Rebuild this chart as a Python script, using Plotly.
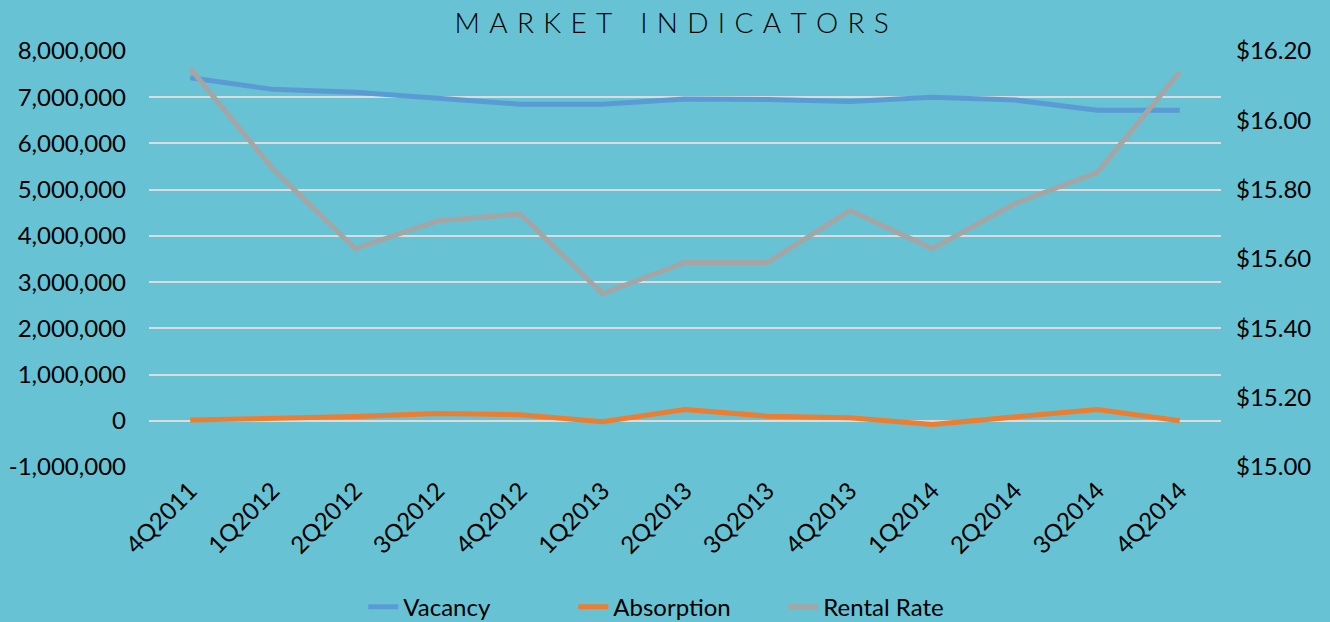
import plotly.graph_objects as go

quarters = ["4Q2011", "1Q2012", "2Q2012", "3Q2012", "4Q2012", "1Q2013", "2Q2013",
            "3Q2013", "4Q2013", "1Q2014", "2Q2014", "3Q2014", "4Q2014"]
vacancy = [7420000, 7170000, 7110000, 6970000, 6850000, 6850000, 6960000,
           6950000, 6910000, 7000000, 6940000, 6720000, 6720000]
absorption = [15000, 45000, 90000, 160000, 130000, -20000, 245000,
              100000, 65000, -78000, 75000, 245000, 0]
rental_rate = [16.15, 15.86, 15.63, 15.71, 15.73, 15.50, 15.59,
               15.59, 15.74, 15.63, 15.76, 15.85, 16.14]
left_ticks = [-1000000, 0, 1000000, 2000000, 3000000, 4000000, 5000000, 6000000, 7000000, 8000000]
left_labels = ["-1,000,000", "0", "1,000,000", "2,000,000", "3,000,000", "4,000,000",
               "5,000,000", "6,000,000", "7,000,000", "8,000,000"]
right_ticks = [15.0, 15.2, 15.4, 15.6, 15.8, 16.0, 16.2]
right_labels = ["$15.00", "$15.20", "$15.40", "$15.60", "$15.80", "$16.00", "$16.20"]

FONT = "Lato"
TXT = "#000000"
SZ = 24

fig = go.Figure()
fig.add_trace(go.Scatter(x=quarters, y=vacancy, name="Vacancy", mode="lines",
                         line=dict(color="#5B9BD5", width=5)))
fig.add_trace(go.Scatter(x=quarters, y=absorption, name="Absorption", mode="lines",
                         line=dict(color="#ED7D31", width=5)))
fig.add_trace(go.Scatter(x=quarters, y=rental_rate, name="Rental Rate", mode="lines",
                         line=dict(color="#A5A5A5", width=5), yaxis="y2"))

sp = "\u2004"
title = sp.join(list("MARKET")) + sp * 3 + sp.join(list("INDICATORS"))

fig.update_layout(
    width=1330, height=622,
    margin=dict(l=149, r=109, t=51, b=155, autoexpand=False),
    paper_bgcolor="#67C2D3", plot_bgcolor="#67C2D3",
    font=dict(family=FONT, color=TXT, size=SZ),
    title=dict(text=title, x=0.505, xanchor="center", xref="container",
               y=0.962, yanchor="middle", yref="container",
               font=dict(family=FONT, size=28, color="#000000", weight=300)),
    showlegend=True,
    legend=dict(orientation="h", xref="container", x=0.51, xanchor="center",
                yref="container", y=0.024, yanchor="middle",
                font=dict(family=FONT, size=SZ, color=TXT), bgcolor="rgba(0,0,0,0)",
                entrywidth=165, entrywidthmode="pixels", tracegroupgap=0),
    xaxis=dict(type="category", range=[-0.5, 12.5], tickangle=-45, showgrid=False,
               showline=False, zeroline=False, ticks="", tickfont=dict(size=SZ),
               ticklabelstandoff=4),
    yaxis=dict(range=[-1000000, 8000000], tickvals=left_ticks, ticktext=left_labels,
               showgrid=True, gridcolor="#DCDCDC", gridwidth=2, zeroline=False,
               showline=False, ticks="", tickfont=dict(size=SZ), ticklabelstandoff=22),
    yaxis2=dict(range=[15.0, 16.2], tickvals=right_ticks, ticktext=right_labels,
                overlaying="y", side="right", showgrid=False, zeroline=False,
                showline=False, ticks="", tickfont=dict(size=SZ), ticklabelstandoff=14),
)

fig.write_html("out.html")
